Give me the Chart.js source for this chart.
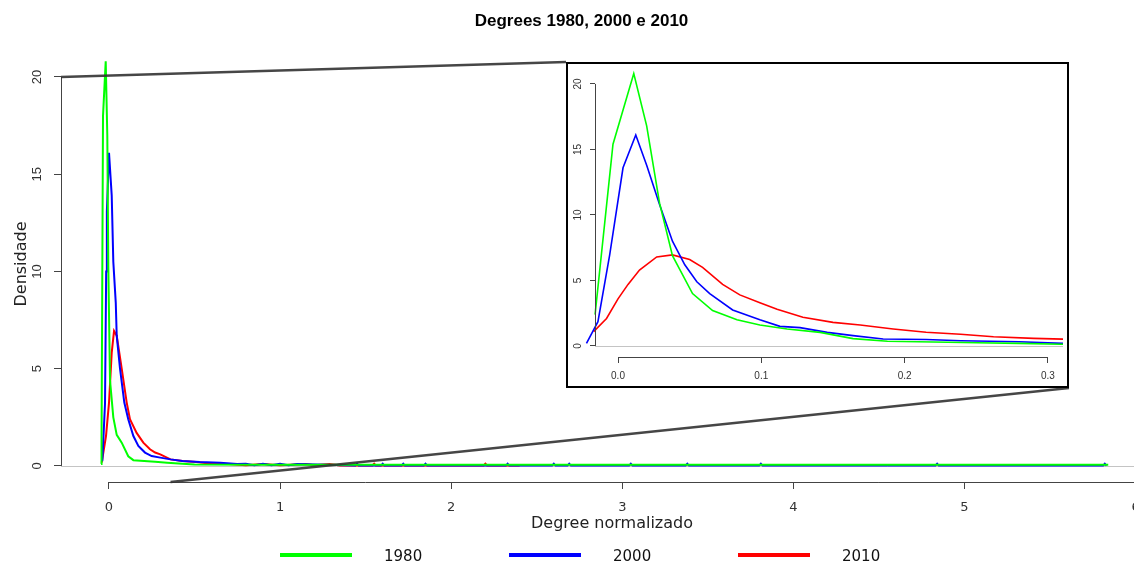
<!DOCTYPE html>
<html>
<head>
<meta charset="utf-8">
<script src="https://cdn.jsdelivr.net/npm/chart.js@4.4.1/dist/chart.umd.min.js"></script>
<style>
  html, body { margin: 0; padding: 0; background: #fff; overflow: hidden; }
  #wrap { position: relative; width: 1134px; height: 564px; overflow: hidden; }
  #mainChart { position: absolute; left: 0; top: 0; }
  #zoomBox { position: absolute; left: 566px; top: 62px; width: 499px; height: 322px; border: 2px solid #000; background: #fff; }
  #zoomChart { position: absolute; left: 0; top: 0; }
  .legend-line { position: absolute; top: 553px; width: 72px; height: 4px; }
  .legend-text { position: absolute; top: 547px; line-height: 18px; font: 15px "DejaVu Sans"; color: #111; }
</style>
</head>
<body>
<div id="wrap">
  <canvas id="mainChart" width="1165" height="564"></canvas>
  <div id="zoomBox"><canvas id="zoomChart" width="499" height="322"></canvas></div>
  <div id="legend"></div>
</div>
<script>
// series labels
const years = ["1980", "2000", "2010"];

// main plot curves (x = degree normalizado, y = densidade)
const main1980X = [-0.046, -0.043, -0.0386, -0.0345, -0.0187, -0.0094, -0.0035, 0.0064, 0.0257, 0.0456, 0.0748, 0.113, 0.143, 0.27, 0.34, 0.43, 0.5, 1.0, 2.0, 3.0, 4.0, 5.0, 5.84];
const main1980Y = [0.1, 1.5, 10, 18, 20.8, 17, 10.2, 4.4, 2.5, 1.6, 1.2, 0.5, 0.3, 0.22, 0.17, 0.12, 0.08, 0.07, 0.07, 0.07, 0.07, 0.07, 0.07];

const main2000X = [-0.0386, -0.0228, -0.016, -0.012, 0.0006, 0.0164, 0.0257, 0.04, 0.0456, 0.0649, 0.09, 0.113, 0.143, 0.172, 0.211, 0.25, 0.3, 0.36, 0.43, 0.53, 0.65, 0.75,
  0.8, 0.85, 0.9, 0.95, 1.0, 1.05, 1.1, 1.44, 1.45, 1.46, 1.59, 1.6, 1.61, 1.71, 1.72, 1.73, 1.84, 1.85, 1.86, 2.32, 2.33, 2.34, 2.59, 2.6, 2.61, 2.68, 2.69, 2.7,
  3.04, 3.05, 3.06, 3.37, 3.38, 3.39, 3.8, 3.81, 3.82, 4.83, 4.84, 4.85, 5.81, 5.82, 5.83];
const main2000Y = [0.25, 3.2, 10, 13.1, 16.1, 13.9, 10.5, 8.4, 6.7, 5.0, 3.26, 2.4, 1.54, 1.03, 0.69, 0.51, 0.43, 0.34, 0.26, 0.2, 0.17, 0.1,
  0.11, 0.04, 0.11, 0.04, 0.11, 0.04, 0.1, 0.02, 0.12, 0.02, 0.02, 0.12, 0.02, 0.02, 0.12, 0.02, 0.02, 0.12, 0.02, 0.02, 0.12, 0.02, 0.02, 0.12, 0.02, 0.02, 0.12, 0.02,
  0.02, 0.12, 0.02, 0.02, 0.12, 0.02, 0.02, 0.12, 0.02, 0.02, 0.12, 0.02, 0.02, 0.12, 0.02];

const main2010X = [-0.042, -0.017, 0.0006, 0.0164, 0.03, 0.0456, 0.0748, 0.104, 0.123, 0.162, 0.201, 0.24, 0.27, 0.3, 0.36, 0.43, 0.51, 0.6, 0.7, 0.8, 0.9, 1.0,
  1.15, 1.2, 1.29, 1.35, 1.54, 1.55, 1.56, 2.19, 2.2, 2.21, 2.4];
const main2010Y = [0.17, 1.54, 3.26, 5.83, 6.94, 6.7, 5.0, 3.26, 2.4, 1.7, 1.2, 0.86, 0.69, 0.6, 0.34, 0.26, 0.2, 0.12, 0.1, 0.04, 0.1, 0.04,
  0.1, 0.04, 0.1, 0.03, 0.03, 0.12, 0.03, 0.03, 0.12, 0.03, 0.02];

// inset curves
const zoom1980X = [-0.016, -0.0035, 0.011, 0.02, 0.029, 0.038, 0.052, 0.066, 0.083, 0.099, 0.118, 0.141, 0.164, 0.188, 0.22, 0.25, 0.28, 0.31, 0.36];
const zoom1980Y = [2.4, 15.4, 20.8, 16.8, 10.9, 6.9, 4.0, 2.7, 2.0, 1.6, 1.3, 1.04, 0.56, 0.36, 0.3, 0.25, 0.2, 0.13, 0.12];

const zoom2000X = [-0.022, -0.014, -0.0058, 0.0035, 0.0124, 0.02, 0.029, 0.038, 0.0466, 0.055, 0.064, 0.08, 0.099, 0.113, 0.127, 0.146, 0.164, 0.185, 0.215, 0.239, 0.28, 0.31, 0.37];
const zoom2000Y = [0.2, 1.86, 6.95, 13.6, 16.1, 13.8, 10.8, 8.0, 6.2, 4.9, 4.0, 2.75, 2.0, 1.5, 1.4, 1.04, 0.79, 0.53, 0.5, 0.4, 0.32, 0.2, 0.18];

const zoom2010X = [-0.017, -0.008, 0.0, 0.007, 0.015, 0.027, 0.038, 0.05, 0.059, 0.073, 0.085, 0.099, 0.111, 0.129, 0.15, 0.169, 0.192, 0.215, 0.239, 0.262, 0.29, 0.32, 0.38];
const zoom2010Y = [1.1, 2.1, 3.6, 4.7, 5.8, 6.8, 6.95, 6.6, 6.0, 4.7, 3.9, 3.3, 2.8, 2.2, 1.8, 1.6, 1.3, 1.05, 0.9, 0.7, 0.58, 0.5, 0.4];

// axis ticks
const mainXTicks = [0, 1, 2, 3, 4, 5, 6];
const mainXLabels = ["0", "1", "2", "3", "4", "5", "6"];
const mainYTicks = [0, 5, 10, 15, 20];
const zoomXTicks = [0, 0.1, 0.2, 0.3];
const zoomXLabels = ["0.0", "0.1", "0.2", "0.3"];
const zoomYTicks = [0, 5, 10, 15, 20];

const lineColors = ["#00ff00", "#0000ff", "#ff0000"];

// inset box on the page, used for the connector lines
const box = { left: 566, top: 62, right: 1069, bottom: 388 };

function makeDatasets(xs, ys, width, clip) {
  return years.map((yr, i) => ({
    label: yr,
    data: xs[i].map((x, j) => ({ x, y: ys[i][j] })),
    borderColor: lineColors[i],
    backgroundColor: lineColors[i],
    borderWidth: width,
    pointRadius: 0,
    tension: 0,
    fill: false,
    clip: clip
  }));
}

// R style axes: lines only between ticks, rotated y labels, grey zero line
function rAxes(cfg) {
  return {
    id: "rAxes",
    beforeDatasetsDraw(chart) {
      const { ctx, chartArea: a, scales: { y } } = chart;
      const y0 = Math.round(y.getPixelForValue(0)) + 0.5;
      ctx.save();
      ctx.strokeStyle = "#c4c4c4";
      ctx.lineWidth = 1;
      ctx.beginPath();
      ctx.moveTo(a.left, y0);
      ctx.lineTo(a.right, y0);
      ctx.stroke();
      ctx.restore();
    },
    afterDraw(chart) {
      const { ctx, chartArea: a, scales: { x, y } } = chart;
      const yt = cfg.yTicks;
      const xt = cfg.xTicks;
      ctx.save();
      ctx.strokeStyle = "#444";
      ctx.lineWidth = 1;
      ctx.beginPath();
      const ax = Math.round(a.left) + 0.5;
      ctx.moveTo(ax, y.getPixelForValue(yt[0]));
      ctx.lineTo(ax, y.getPixelForValue(yt[yt.length - 1]));
      const ay = Math.round(a.bottom) + 0.5;
      ctx.moveTo(x.getPixelForValue(xt[0]), ay);
      ctx.lineTo(Math.min(a.right, x.getPixelForValue(xt[xt.length - 1])), ay);
      ctx.stroke();

      ctx.fillStyle = "#333";
      ctx.font = cfg.yFont;
      ctx.textAlign = "center";
      ctx.textBaseline = "middle";
      yt.forEach(v => {
        ctx.save();
        ctx.translate(cfg.yLabelX, y.getPixelForValue(v));
        ctx.rotate(-Math.PI / 2);
        ctx.fillText(String(v), 0, 0);
        ctx.restore();
      });

      if (cfg.connectors) {
        ctx.strokeStyle = "rgba(50,50,50,0.9)";
        ctx.lineWidth = 2.5;
        ctx.beginPath();
        ctx.moveTo(a.left, y.getPixelForValue(20));
        ctx.lineTo(box.left, box.top);
        ctx.moveTo(x.getPixelForValue(0.36), a.bottom);
        ctx.lineTo(box.right, box.bottom);
        ctx.stroke();
      }
      ctx.restore();
    }
  };
}

function tickSetter(list) {
  return s => { s.ticks = list.map(v => ({ value: v })); };
}

new Chart(document.getElementById("mainChart"), {
  type: "line",
  data: { datasets: makeDatasets([main1980X, main2000X, main2010X], [main1980Y, main2000Y, main2010Y], 2, true) },
  options: {
    responsive: false,
    animation: false,
    events: [],
    layout: { padding: { left: 0, right: 2, top: 0, bottom: 0 } },
    plugins: {
      legend: { display: false },
      tooltip: { enabled: false },
      title: {
        display: true,
        text: "Degrees 1980, 2000 e 2010",
        color: "#000",
        font: { family: "Liberation Sans", size: 17, weight: "bold" },
        padding: { top: 11, bottom: 14.6 }
      }
    },
    scales: {
      x: {
        type: "linear",
        min: -0.28,
        max: 6.16,
        afterBuildTicks: tickSetter(mainXTicks),
        afterFit: s => { s.height = 82; },
        border: { display: false },
        grid: { drawOnChartArea: false, drawTicks: true, tickLength: 7, color: "#444" },
        ticks: {
          autoSkip: false, maxRotation: 0, padding: 11, color: "#333",
          font: { family: "DejaVu Sans", size: 13 },
          callback: (v, i) => mainXLabels[i]
        },
        title: {
          display: true, text: "Degree normalizado", color: "#222",
          font: { family: "DejaVu Sans", size: 16 },
          padding: { top: 0, bottom: 31 }
        }
      },
      y: {
        type: "linear",
        min: -0.823,
        max: 21.59,
        afterBuildTicks: tickSetter(mainYTicks),
        afterFit: s => { s.width = 61; },
        border: { display: false },
        grid: { drawOnChartArea: false, drawTicks: true, tickLength: 7, color: "#444" },
        ticks: { display: false },
        title: {
          display: true, text: "Densidade", color: "#222",
          font: { family: "DejaVu Sans", size: 16 },
          padding: { top: 12.4, bottom: 0 }
        }
      }
    }
  },
  plugins: [rAxes({ xTicks: mainXTicks, yTicks: mainYTicks, yLabelX: 37, yFont: "13px 'Liberation Sans'", connectors: true })]
});

new Chart(document.getElementById("zoomChart"), {
  type: "line",
  data: { datasets: makeDatasets([zoom1980X, zoom2000X, zoom2010X], [zoom1980Y, zoom2000Y, zoom2010Y], 1.6, { left: 10, right: 0, top: 0, bottom: 0 }) },
  options: {
    responsive: false,
    animation: false,
    events: [],
    layout: { padding: { left: 0, right: 4, top: 2, bottom: 0 } },
    plugins: { legend: { display: false }, tooltip: { enabled: false }, title: { display: false } },
    scales: {
      x: {
        type: "linear",
        min: -0.01605,
        max: 0.3105,
        afterBuildTicks: tickSetter(zoomXTicks),
        afterFit: s => { s.height = 29; },
        border: { display: false },
        grid: { drawOnChartArea: false, drawTicks: true, tickLength: 6, color: "#444" },
        ticks: {
          autoSkip: false, maxRotation: 0, padding: 7, color: "#333",
          font: { family: "Liberation Sans", size: 10 },
          callback: (v, i) => zoomXLabels[i]
        }
      },
      y: {
        type: "linear",
        min: -0.84,
        max: 21.37,
        afterBuildTicks: tickSetter(zoomYTicks),
        afterFit: s => { s.width = 27; },
        border: { display: false },
        grid: { drawOnChartArea: false, drawTicks: true, tickLength: 5, color: "#444" },
        ticks: { display: false }
      }
    }
  },
  plugins: [rAxes({ xTicks: zoomXTicks, yTicks: zoomYTicks, yLabelX: 10, yFont: "10px 'Liberation Sans'", connectors: false })]
});

// legend under the plot
const legend = document.getElementById("legend");
years.forEach((yr, i) => {
  const line = document.createElement("div");
  line.className = "legend-line";
  line.style.left = (280 + 229 * i) + "px";
  line.style.background = lineColors[i];
  legend.appendChild(line);
  const txt = document.createElement("div");
  txt.className = "legend-text";
  txt.style.left = (384 + 229 * i) + "px";
  txt.textContent = yr;
  legend.appendChild(txt);
});
</script>
</body>
</html>
